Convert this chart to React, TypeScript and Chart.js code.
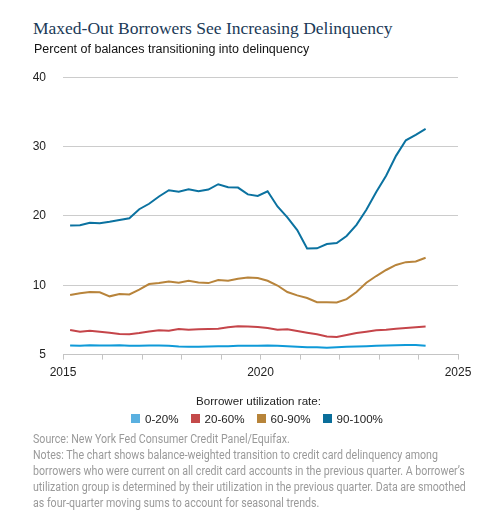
import React, { useEffect, useRef } from "react";
import { Chart, registerables } from "chart.js";

Chart.register(...registerables);

const quarters = [
  "2015Q1", "2015Q2", "2015Q3", "2015Q4",
  "2016Q1", "2016Q2", "2016Q3", "2016Q4",
  "2017Q1", "2017Q2", "2017Q3", "2017Q4",
  "2018Q1", "2018Q2", "2018Q3", "2018Q4",
  "2019Q1", "2019Q2", "2019Q3", "2019Q4",
  "2020Q1", "2020Q2", "2020Q3", "2020Q4",
  "2021Q1", "2021Q2", "2021Q3", "2021Q4",
  "2022Q1", "2022Q2", "2022Q3", "2022Q4",
  "2023Q1", "2023Q2", "2023Q3", "2023Q4",
  "2024Q1",
];

const util0to20 = [
  5.66, 5.63, 5.68, 5.66, 5.66, 5.68, 5.63, 5.63, 5.66, 5.66, 5.63, 5.58,
  5.56, 5.56, 5.58, 5.6, 5.6, 5.63, 5.63, 5.63, 5.66, 5.63, 5.6, 5.56,
  5.53, 5.53, 5.5, 5.53, 5.56, 5.58, 5.6, 5.63, 5.66, 5.68, 5.7, 5.7, 5.63,
];

const util20to60 = [
  6.78, 6.65, 6.72, 6.65, 6.58, 6.48, 6.46, 6.55, 6.67, 6.75, 6.72, 6.85,
  6.8, 6.82, 6.85, 6.87, 6.97, 7.04, 7.02, 6.99, 6.92, 6.8, 6.82, 6.7,
  6.58, 6.46, 6.31, 6.27, 6.41, 6.56, 6.65, 6.75, 6.8, 6.87, 6.92, 6.97, 7.02,
];

const util60to90 = [
  9.29, 9.42, 9.51, 9.49, 9.2, 9.37, 9.34, 9.69, 10.17, 10.31, 10.55, 10.36,
  10.65, 10.4, 10.31, 10.75, 10.65, 10.95, 11.1, 11.04, 10.65, 9.98, 9.51, 9.27,
  9.08, 8.78, 8.78, 8.76, 9.0, 9.51, 10.37, 11.33, 12.2, 12.93, 13.33, 13.43, 13.96,
];

const util90to100 = [
  18.6, 18.65, 19.0, 18.95, 19.15, 19.4, 19.65, 20.96, 21.75, 22.8, 23.7, 23.5,
  23.85, 23.55, 23.8, 24.57, 24.13, 24.08, 23.1, 22.87, 23.55, 21.36, 19.8, 17.95,
  15.3, 15.32, 15.95, 16.1, 17.1, 18.7, 20.88, 23.45, 25.8, 28.66, 30.9, 31.7, 32.55,
];

const seriesLabels = ["0-20%", "20-60%", "60-90%", "90-100%"];
const lineColors = ["#0f9ad8", "#c5454a", "#b8843b", "#0b72a0"];
const legendColors = ["#5ab0e0", "#c44a4a", "#b7843a", "#0a6e9a"];

const yTickValues = [5, 10, 20, 30, 40];
const xTickYears = [2015, 2020, 2025];

const titleText = "Maxed-Out Borrowers See Increasing Delinquency";
const subtitleText = "Percent of balances transitioning into delinquency";
const legendTitle = "Borrower utilization rate:";
const noteLines = [
  "Source: New York Fed Consumer Credit Panel/Equifax.",
  "Notes: The chart shows balance-weighted transition to credit card delinquency among",
  "borrowers who were current on all credit card accounts in the previous quarter. A borrower\u2019s",
  "utilization group is determined by their utilization in the previous quarter. Data are smoothed",
  "as four-quarter moving sums to account for seasonal trends.",
];

// The y axis is broken: 5–10 occupies the same height as 10–20.
const toAxis = (v: number) => (v >= 10 ? v : 10 - (10 - v) * 2);
const fromAxis = (a: number) => (a >= 10 ? a : 10 - (10 - a) / 2);
const quarterToX = (q: string) => {
  const [y, n] = q.split("Q");
  return Number(y) + (Number(n) - 1) / 4 + 0.18;
};

const SANS = "'Liberation Sans', Arial, sans-serif";

export default function App() {
  const canvasRef = useRef<HTMLCanvasElement | null>(null);

  useEffect(() => {
    if (!canvasRef.current) return;
    const all = [util0to20, util20to60, util60to90, util90to100];
    const chart = new Chart(canvasRef.current, {
      type: "line",
      data: {
        datasets: all.map((arr, i) => ({
          label: seriesLabels[i],
          data: arr.map((v, k) => ({ x: quarterToX(quarters[k]), y: toAxis(v) })),
          borderColor: lineColors[i],
          backgroundColor: legendColors[i],
          borderWidth: 2,
          pointRadius: 0,
          tension: 0,
        })),
      },
      options: {
        animation: false,
        responsive: false,
        maintainAspectRatio: false,
        layout: { padding: { top: 9, right: 34, left: 0, bottom: 12 } },
        plugins: {
          tooltip: { enabled: false },
          legend: { display: false },
        },
        scales: {
          x: {
            type: "linear",
            min: 2015,
            max: 2025,
            ticks: {
              stepSize: 1,
              autoSkip: false,
              maxRotation: 0,
              padding: 6,
              color: "#222",
              font: { family: SANS, size: 12 },
              callback: (v: any) => (xTickYears.includes(Number(v)) ? String(v) : ""),
            },
            grid: { drawOnChartArea: false, drawTicks: true, tickLength: 5, color: "#c4c4c4" },
            border: { display: true, color: "#c4c4c4" },
          },
          y: {
            type: "linear",
            min: 0,
            max: 40,
            afterBuildTicks: (s: any) => {
              s.ticks = yTickValues.map((v) => ({ value: toAxis(v) }));
            },
            afterFit: (s: any) => {
              s.width = 63;
            },
            ticks: {
              padding: 17,
              color: "#222",
              font: { family: SANS, size: 12 },
              callback: (v: any) => String(fromAxis(Number(v))),
            },
            grid: { color: "#cccccc", drawTicks: false },
            border: { display: false },
          },
        },
      },
    } as any);
    return () => chart.destroy();
  }, []);

  return (
    <div style={{ position: "absolute", left: 0, top: 0, width: 492, height: 525, background: "#fff", overflow: "hidden" }}>
      <canvas
        ref={canvasRef}
        width={492}
        height={345}
        style={{ position: "absolute", left: 0, top: 53, width: 492, height: 345 }}
      />
      <div
        style={{
          position: "absolute",
          left: 33,
          top: 18,
          fontFamily: "'Liberation Serif', Georgia, serif",
          fontSize: 17.5,
          color: "#1b3a57",
          whiteSpace: "nowrap",
        }}
      >
        {titleText}
      </div>
      <div
        style={{
          position: "absolute",
          left: 34,
          top: 42,
          fontFamily: SANS,
          fontSize: 12.5,
          color: "#111",
          whiteSpace: "nowrap",
        }}
      >
        {subtitleText}
      </div>
      <div
        style={{
          position: "absolute",
          left: 158.5,
          width: 200,
          top: 393,
          textAlign: "center",
          fontFamily: SANS,
          fontSize: 11.6,
          lineHeight: "15px",
          color: "#222",
          whiteSpace: "nowrap",
        }}
      >
        {legendTitle}
      </div>
      <div
        style={{
          position: "absolute",
          left: 107,
          width: 300,
          top: 411,
          display: "flex",
          justifyContent: "center",
          fontFamily: SANS,
          fontSize: 11.6,
          lineHeight: "15px",
          color: "#222",
          whiteSpace: "nowrap",
        }}
      >
        {seriesLabels.map((s, i) => (
          <div key={s} style={{ display: "flex", alignItems: "center", marginRight: i < seriesLabels.length - 1 ? 12 : 0 }}>
            <span style={{ display: "inline-block", width: 9, height: 9, background: legendColors[i], marginRight: 5 }} />
            <span>{s}</span>
          </div>
        ))}
      </div>
      <div
        style={{
          position: "absolute",
          left: 33,
          top: 431,
          fontFamily: "Roboto, sans-serif",
          fontSize: 12,
          lineHeight: "16px",
          color: "#9a9a9a",
          whiteSpace: "nowrap",
          transform: "scaleX(0.886)",
          transformOrigin: "0 0",
        }}
      >
        {noteLines.map((l, i) => (
          <div key={i}>{l}</div>
        ))}
      </div>
    </div>
  );
}
